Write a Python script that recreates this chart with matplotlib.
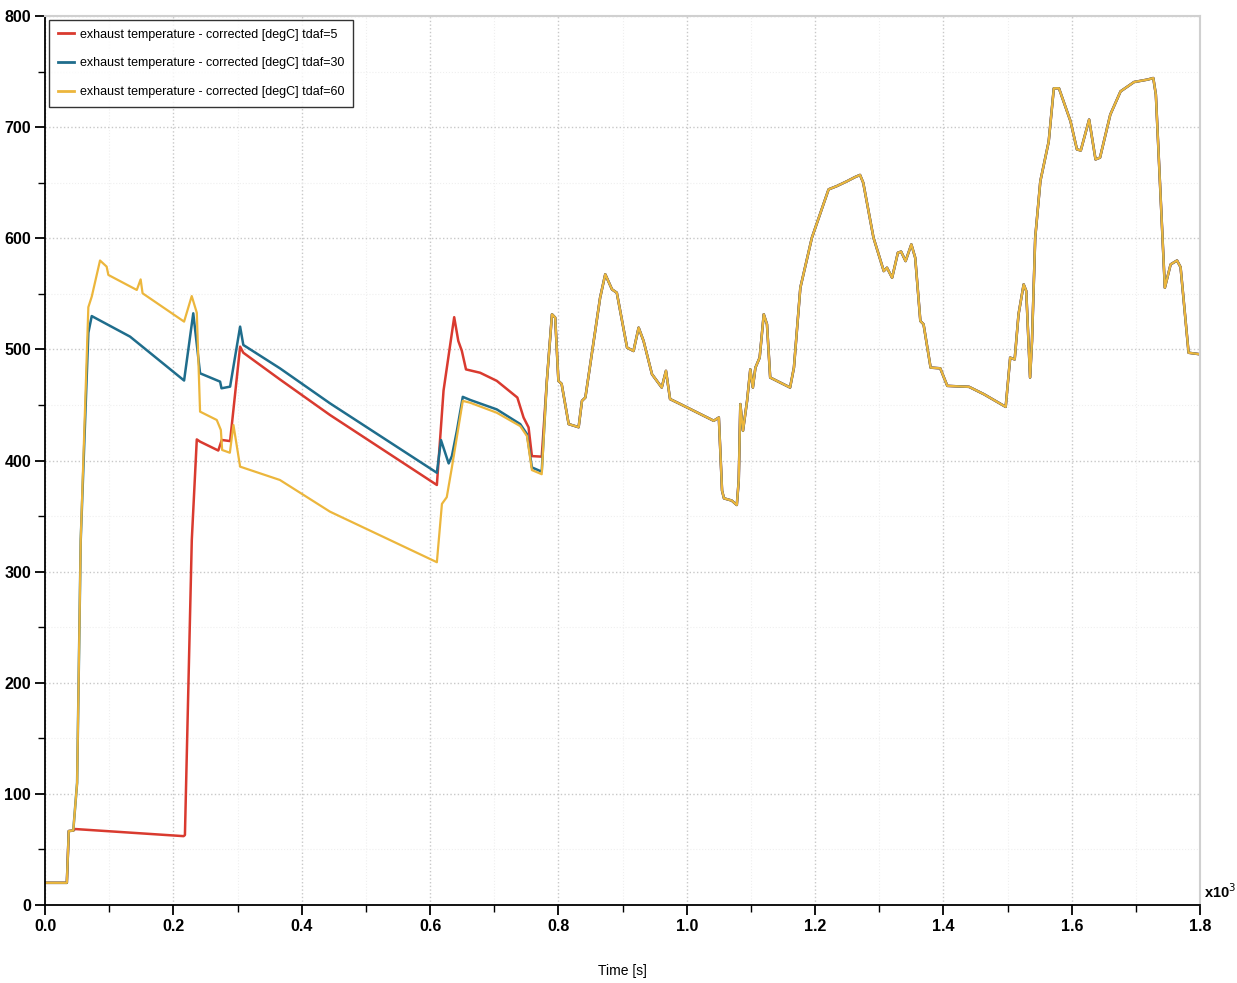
import numpy as np
import matplotlib.pyplot as plt
from matplotlib.ticker import MultipleLocator

# Time in seconds, temperature in degC
# Early part of each run (until the three runs meet at ~780 s)
t_red = [0, 34, 37, 44, 47, 216, 218, 228.7, 236.5, 241.6, 270, 275.4, 288.4, 304, 309,
         366, 444, 610.6, 621, 637.6, 644, 649.5, 656, 678, 704, 736, 745.7, 753.5, 758.7, 774]
T_red = [20, 20, 66.6, 67, 68.4, 62, 63, 328.5, 419, 417, 409, 418.5, 417.5, 502.5, 497,
         473, 441, 378, 463, 529, 507.6, 498.7, 482, 479, 471.7, 456.7, 438.7, 429.8, 404, 403.5]

t_blue = [0, 34, 37, 44, 50, 55.6, 67.5, 72.8, 132.5, 216.7, 231, 241.6, 272.8, 275, 288.4,
          304, 309, 366, 444, 610.6, 617, 629, 634, 641.8, 651, 662.6, 704, 740.5, 751, 758.7, 774]
T_blue = [20, 20, 66.6, 67, 110, 328, 515, 530, 511.5, 472, 532.5, 478.5, 471, 465, 466.5,
          520.5, 504, 483, 451.5, 389, 418.4, 397.4, 404, 426.8, 457.3, 454.5, 446, 432.8, 423.8, 393.8, 390]

t_yel = [0, 34, 37, 44, 50, 55.6, 67.5, 72.8, 85.7, 96, 98.7, 143, 149, 152, 216.7, 228.6,
         236.5, 241.6, 267.6, 274, 276, 288, 293.6, 304, 366, 444, 610.6, 618.5, 626, 634,
         651, 662.6, 704, 740.5, 751, 758.7, 774]
T_yel = [20, 20, 66.6, 67, 110, 328, 538, 547.5, 580, 574.5, 567, 553.5, 563, 550.5, 525, 548,
         533, 444, 436.5, 427.5, 409.5, 407, 432, 394.5, 382.5, 354, 308.5, 361, 367, 393.8,
         453.7, 452, 443, 431, 422, 391.4, 387.7]

# Shared part after ~780 s (the three runs overlap)
t_common = [782, 790, 795, 800, 805, 816, 831.5, 836.7, 842, 865, 873, 883.5, 891, 907, 917,
            925, 932.7, 945.8, 961, 967.6, 974, 990, 1042, 1050, 1055, 1058, 1070, 1078, 1081,
            1083.5, 1087.6, 1094, 1099, 1103, 1107, 1113.6, 1120, 1125, 1130, 1161, 1167, 1177,
            1195, 1221, 1234, 1250, 1262, 1270, 1275, 1291, 1307, 1312, 1320, 1329, 1334, 1341,
            1350, 1356, 1364, 1369, 1380, 1395, 1406, 1440, 1463, 1497, 1504, 1511, 1517, 1525,
            1529, 1535, 1538, 1543, 1551, 1564, 1572, 1580, 1598, 1608, 1614, 1627, 1637, 1644,
            1660, 1676, 1697, 1718, 1727, 1731, 1745, 1754, 1764, 1769.5, 1782, 1800]
T_common = [471.7, 531.6, 528.6, 471.7, 469, 432.8, 430, 453.7, 456.7, 546.6, 567.6, 554, 551,
            501.6, 498.6, 519.6, 507.6, 477.7, 465.7, 480.7, 455.3, 450.8, 435.8, 438.7, 372.9,
            366, 364, 360, 382, 450.8, 426.8, 453.7, 482, 465.7, 483.6, 492.6, 531.6, 522.6,
            474.7, 465.7, 483.6, 555.5, 600.5, 644, 647, 651.4, 655, 657, 650, 600.5, 570.5,
            573.5, 564.5, 587, 588, 579.5, 594.5, 582.5, 525.6, 522.6, 483.6, 483, 467.2, 466.3,
            459.7, 448.3, 492.6, 491, 531.6, 558.5, 552.6, 474.7, 507.6, 600.5, 651.4, 687, 735,
            735, 705.3, 680, 679, 706.8, 671, 672.6, 711.3, 732.2, 740.6, 742.8, 744.2, 729.3,
            555.5, 576.5, 580, 574, 497, 495.6]

labels = ['exhaust temperature - corrected [degC] tdaf=5',
          'exhaust temperature - corrected [degC] tdaf=30',
          'exhaust temperature - corrected [degC] tdaf=60']
colors = ['#d93a2f', '#1f6d8c', '#ecb63c']
widths = [1.8, 1.8, 1.6]

plt.rcParams['font.family'] = ['Liberation Sans', 'DejaVu Sans']

fig = plt.figure(figsize=(12.37, 9.83), dpi=100)
ax = fig.add_axes([0.0364, 0.0793, 0.9338, 0.9044])

for t_early, T_early, lab, col, w in zip([t_red, t_blue, t_yel], [T_red, T_blue, T_yel],
                                         labels, colors, widths):
    t = np.array(t_early + t_common) / 1000.0
    T = np.array(T_early + T_common)
    ax.plot(t, T, color=col, lw=w, label=lab, solid_joinstyle='round')

ax.set_xlim(0, 1.8)
ax.set_ylim(0, 800)
ax.xaxis.set_major_locator(MultipleLocator(0.2))
ax.xaxis.set_minor_locator(MultipleLocator(0.1))
ax.yaxis.set_major_locator(MultipleLocator(100))
ax.yaxis.set_minor_locator(MultipleLocator(50))
ax.xaxis.set_major_formatter(plt.FuncFormatter(lambda v, p: f'{v:.1f}'))

ax.grid(which='major', color='#c8c8c8', linestyle=':', linewidth=1.0)
ax.grid(which='minor', color='#efefef', linestyle=':', linewidth=0.8)
ax.set_axisbelow(True)

for s in ['top', 'right']:
    ax.spines[s].set_color('#d0d0d0')
    ax.spines[s].set_linewidth(1.5)
for s in ['left', 'bottom']:
    ax.spines[s].set_color('black')
    ax.spines[s].set_linewidth(1.3)

ax.tick_params(which='major', direction='out', length=7, width=1.3, labelsize=11.5,
               top=False, right=False, pad=3)
ax.tick_params(which='minor', direction='out', length=5, width=1.0, top=False, right=False)
for lbl in ax.get_xticklabels() + ax.get_yticklabels():
    lbl.set_fontweight('bold')

ax.set_xlabel('Time [s]', fontsize=10, labelpad=22)
ax.text(1.003, 0.005, r'x10$^{3}$', transform=ax.transAxes, fontsize=10.5, fontweight='bold',
        ha='left', va='bottom')

leg = ax.legend(loc='upper left', fontsize=9, frameon=True, fancybox=False,
                edgecolor='black', handlelength=1.3, handletextpad=0.5, borderaxespad=0.3,
                labelspacing=1.35, borderpad=0.7)
leg.get_frame().set_linewidth(1.0)
for h in leg.get_lines():
    h.set_linewidth(2.0)

plt.savefig('out.png', dpi=100)
